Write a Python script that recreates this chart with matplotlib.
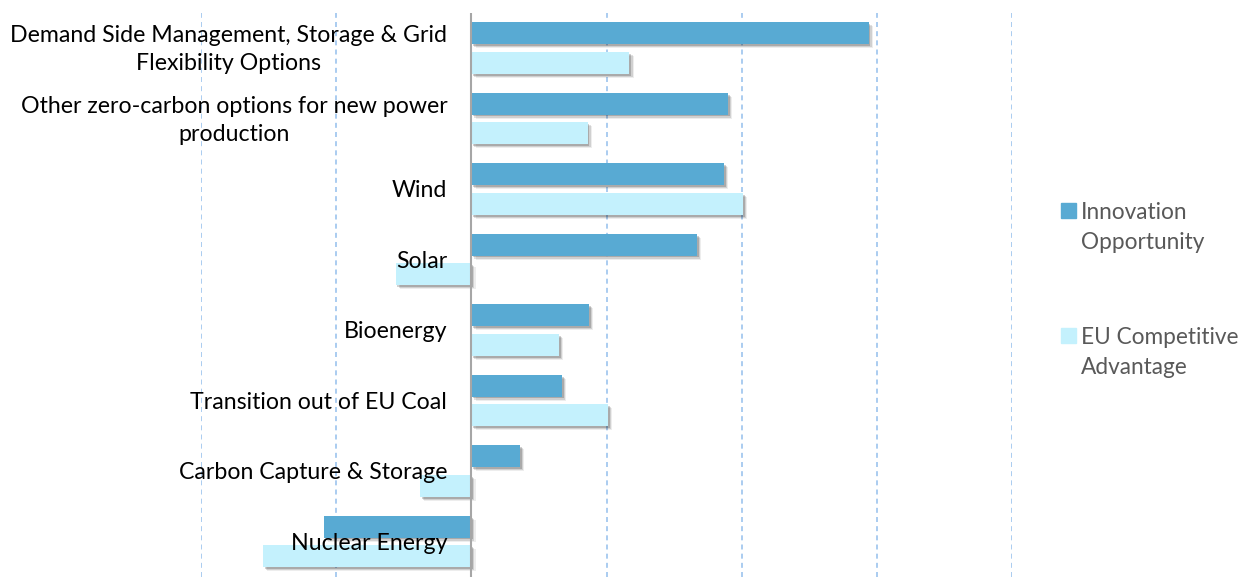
import matplotlib.pyplot as plt
import matplotlib.patheffects as pe
from matplotlib.patches import Rectangle
import numpy as np

# dados
categorias = ['Demand Side Management, Storage & Grid\nFlexibility Options',
              'Other zero-carbon options for new power\nproduction',
              'Wind', 'Solar', 'Bioenergy', 'Transition out of EU Coal',
              'Carbon Capture & Storage', 'Nuclear Energy']
inovacao = [2.94, 1.90, 1.87, 1.67, 0.87, 0.67, 0.36, -1.09]
competitividade = [1.17, 0.86, 2.01, -0.56, 0.65, 1.01, -0.38, -1.54]
serie_nomes = ['Innovation\nOpportunity', 'EU Competitive\nAdvantage']

cor_escura = '#58AAD3'
cor_clara = '#C4F1FD'

plt.rcParams['font.family'] = ['Lato', 'DejaVu Sans']

fig = plt.figure(figsize=(12.44, 5.77), dpi=100)
ax = fig.add_axes([201 / 1244, 0.0, (1012 - 201) / 1244, 1 - 13 / 577])

y = np.arange(len(categorias))
sombra = [pe.SimplePatchShadow(offset=(3.0, -3.0), shadow_rgbFace='black', alpha=0.07),
          pe.SimplePatchShadow(offset=(2.2, -2.2), shadow_rgbFace='black', alpha=0.12),
          pe.SimplePatchShadow(offset=(1.2, -1.4), shadow_rgbFace='black', alpha=0.18),
          pe.Normal()]

b1 = ax.barh(y - 0.215, inovacao, height=0.31, color=cor_escura, zorder=3)
b2 = ax.barh(y + 0.205, competitividade, height=0.31, color=cor_clara, zorder=3)
for b in list(b1) + list(b2):
    b.set_path_effects(sombra)

ax.set_xlim(-2, 4)
ax.set_ylim(len(categorias) - 0.5, -0.5)
ax.set_xticks(np.arange(-2, 5))
ax.grid(axis='x', color='#9CC4EE', linestyle=(0, (3, 2.5)), linewidth=1.2, zorder=0)
ax.axvline(0, color='#A6A6A6', linewidth=1.5, zorder=4)
ax.tick_params(left=False, bottom=False, labelleft=False, labelbottom=False)
for s in ax.spines.values():
    s.set_visible(False)

# rótulos junto ao eixo zero
for i, nome in enumerate(categorias):
    ax.text(-0.178, i + 0.02, nome, ha='right', va='center', multialignment='center',
            fontsize=16.7, color='black', linespacing=1.4, zorder=5)

# legenda manual
for k, (nome, cor) in enumerate(zip(serie_nomes, [cor_escura, cor_clara])):
    ytop = 1 - (203 + k * 125) / 577
    fig.patches.append(Rectangle((1061 / 1244, ytop - 15 / 577), 15 / 1244, 15 / 577,
                                 transform=fig.transFigure, color=cor, figure=fig))
    fig.text(1081 / 1244, ytop + 1 / 577, nome, ha='left', va='top', fontsize=16.3,
             color='#595959', linespacing=1.55)

fig.savefig('out.png', dpi=100)
